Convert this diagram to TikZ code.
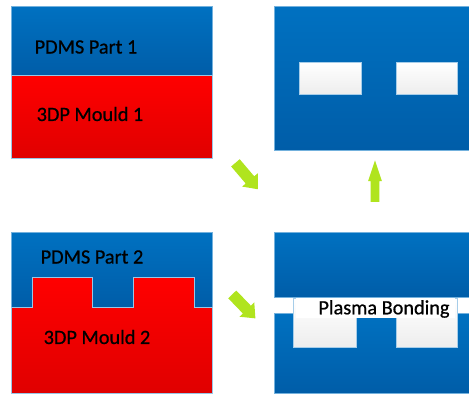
\documentclass[tikz,border=0pt]{standalone}
\usepackage{fontspec}
\setmainfont{Carlito}
\newfontfamily\tagfont{Carlito}[FakeBold=0.8]
\usepackage{xcolor}
\usetikzlibrary{shapes.arrows}

\definecolor{pdmsblue}{RGB}{0,113,193}
\definecolor{pdmsdark}{RGB}{0,93,168}
\definecolor{mouldred}{RGB}{255,0,0}
\definecolor{moulddark}{RGB}{224,0,0}
\definecolor{stepgreen}{RGB}{176,228,30}

\begin{document}
\begin{tikzpicture}[
    x=0.75pt,y=-0.75pt,
    pdms/.style={top color=pdmsblue,bottom color=pdmsdark,draw=pdmsblue!55!white,line width=0.4pt},
    mould/.style={top color=mouldred,bottom color=moulddark,draw=pdmsblue!40!white,line width=0.4pt},
    channel/.style={top color=white,bottom color=black!7,draw=pdmsblue!35!white,line width=0.4pt},
    tag/.style={inner sep=0pt,font=\tagfont\fontsize{15.2}{18}\selectfont},
    steparrow/.style={single arrow,fill=stepgreen,inner xsep=0pt,draw=none}
]
\useasboundingbox (0,0) rectangle (469,394);
% left: PDMS parts on the 3DP moulds
\draw[pdms] (11,6) rectangle (212,75);
\draw[mould] (11,75) rectangle (212,158);
\draw[pdms] (11,232) rectangle (212,307);
\draw[mould] (11,307) -- (32,307) -- (32,277) -- (92,277) -- (92,307) -- (133,307)
    -- (133,277) -- (194,277) -- (194,307) -- (212,307) -- (212,393) -- (11,393) -- cycle;
\node[tag] (pdms1) at (86,47) {PDMS Part 1};
\node[tag] (mould1) at (90,114) {3DP Mould 1};
\node[tag] (pdms2) at (92,257) {PDMS Part 2};
\node[tag] (mould2) at (97,337) {3DP Mould 2};
% right: bonding and the finished chip
\draw[pdms] (274,232) rectangle (469,297);
\draw[pdms] (274,313) rectangle (469,393);
\foreach \xa/\xb in {293/356,396/457}
    \draw[channel] (\xa,298) rectangle (\xb,347);
\fill[white] (296,298) rectangle (455,318);
\node[tag] (bonding) at (384,309) {Plasma Bonding};
\draw[pdms] (274,6) rectangle (469,150);
\foreach \xa/\xb in {299/361,396/457}
    \draw[channel] (\xa,62) rectangle (\xb,94);
% process arrows
\node[steparrow,minimum height=26pt,inner ysep=4pt,single arrow head extend=3.5pt,
    single arrow tip angle=80,rotate=-49.6] (arrow1) at (244.5,173.5) {};
\node[steparrow,minimum height=25pt,inner ysep=4pt,single arrow head extend=3.5pt,
    single arrow tip angle=80,rotate=-46] (arrow2) at (241.5,304) {};
\node[steparrow,minimum height=31pt,inner ysep=3pt,single arrow head extend=2pt,
    single arrow tip angle=37,rotate=90] (arrow3) at (375,187.5) {};
\end{tikzpicture}
\end{document}
